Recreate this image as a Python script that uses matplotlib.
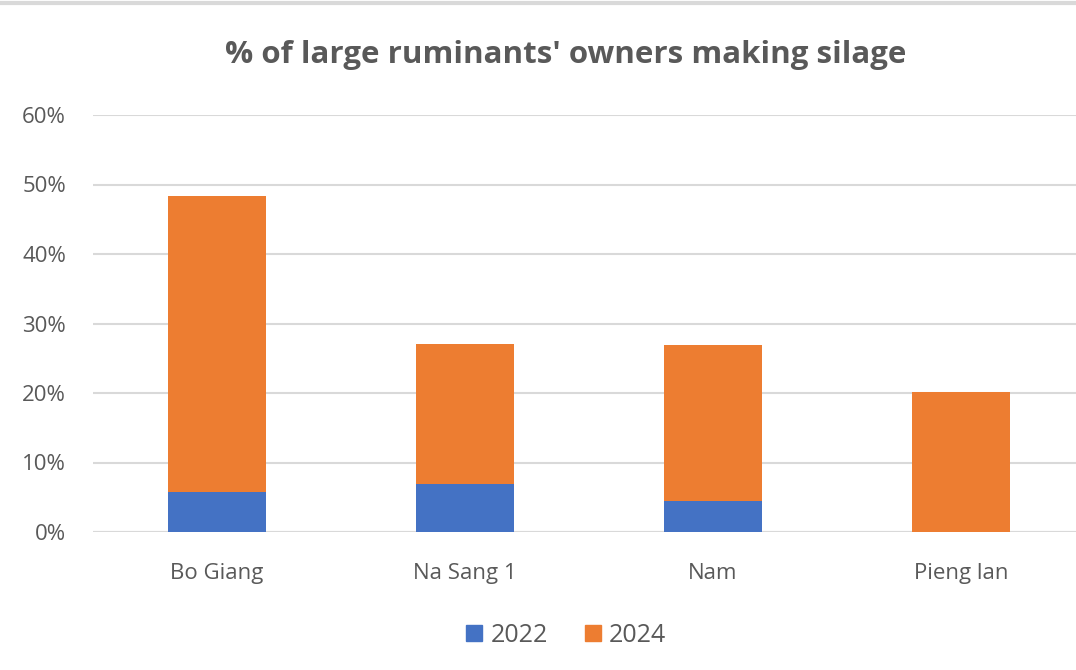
import matplotlib
matplotlib.use("Agg")
import matplotlib.pyplot as plt
from matplotlib.ticker import PercentFormatter
from matplotlib.lines import Line2D

categories = ["Bo Giang", "Na Sang 1", "Nam", "Pieng lan"]
v2022 = [5.8, 6.9, 4.5, 0.0]
v2024 = [42.5, 20.15, 22.4, 20.2]
yticks = [0, 10, 20, 30, 40, 50, 60]

blue = "#4472C4"
orange = "#ED7D31"
grey = "#595959"
grid = "#D9D9D9"

plt.rcParams['font.family'] = ['Open Sans', 'DejaVu Sans']

W, H = 1076, 670
fig = plt.figure(figsize=(W / 100, H / 100), dpi=100)
ax = fig.add_axes([93 / W, (H - 532) / H, (W - 93) / W, (532 - 115) / H])

x = list(range(len(categories)))
ax.bar(x, v2022, width=0.395, color=blue, label="2022", zorder=3)
ax.bar(x, v2024, width=0.395, bottom=v2022, color=orange, label="2024", zorder=3)

ax.set_xlim(-0.5, 3.5 - 9 / 248)
ax.set_ylim(0, 60)
ax.set_yticks(yticks)
ax.yaxis.set_major_formatter(PercentFormatter(decimals=0))
ax.set_xticks(x)
ax.set_xticklabels(categories)
ax.tick_params(axis='both', length=0, colors=grey, labelsize=16)
ax.tick_params(axis='x', pad=22)
ax.tick_params(axis='y', pad=19.5)
ax.grid(axis='y', color=grid, linewidth=1.5, zorder=0)
for s in ax.spines.values():
    s.set_visible(False)
ax.axhline(0, color=grid, linewidth=1.5, zorder=1)

fig.text(566 / W, 1 - 55 / H, "% of large ruminants' owners making silage",
         ha='center', va='center', fontsize=22.5, fontweight='bold', color=grey)

handles = [Line2D([], [], marker='s', linestyle='none', markersize=12, color=blue),
           Line2D([], [], marker='s', linestyle='none', markersize=12, color=orange)]
fig.legend(handles, ["2022", "2024"], loc='center', bbox_to_anchor=(564 / W, 1 - 635 / H),
           ncol=2, frameon=False, fontsize=18, labelcolor=grey, handletextpad=0.15,
           columnspacing=1.3, handlelength=1.0)

fig.add_artist(Line2D([0, 1], [1 - 3 / H, 1 - 3 / H], color=grid, linewidth=3,
                      transform=fig.transFigure))

fig.savefig("out.png", dpi=100, facecolor="white")
